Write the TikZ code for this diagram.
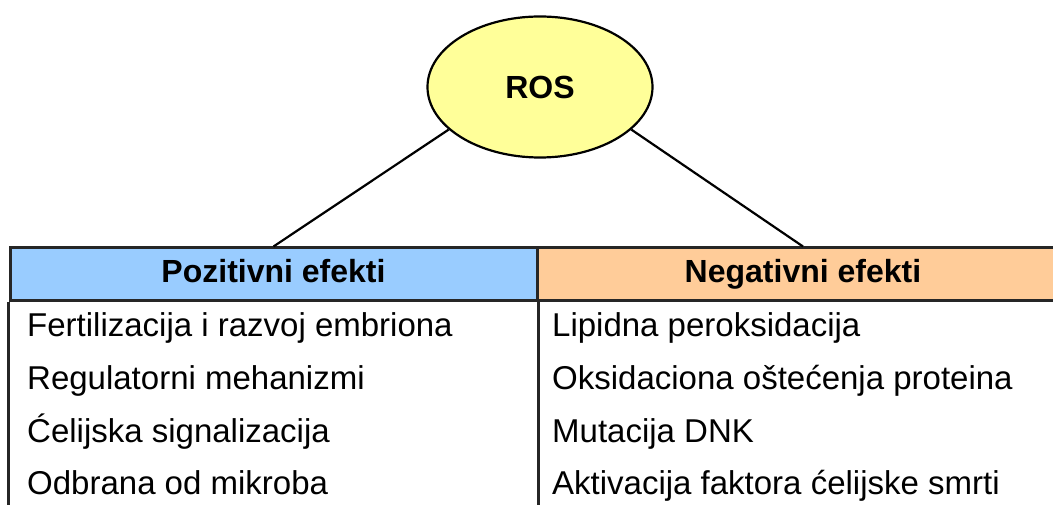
\documentclass[tikz,border=0pt]{standalone}
\usepackage{fontspec}
\setmainfont{Liberation Sans}
\usetikzlibrary{shapes.geometric}
\definecolor{rosyellow}{HTML}{FFFF99}
\definecolor{posblue}{HTML}{99CCFF}
\definecolor{negorange}{HTML}{FFCC99}
\begin{document}
\begin{tikzpicture}[x=1pt,y=-1pt]

\tikzset{rosnode/.style={ellipse,draw,line width=2.2pt,fill=rosyellow,minimum width=225pt,minimum height=141pt,inner sep=0pt,font=\fontsize{32}{38}\selectfont\bfseries},}
\tikzset{headnode/.style={rectangle,draw=black!85,line width=3pt,minimum height=53pt,inner sep=0pt,text height=23pt,text depth=6pt,font=\fontsize{32}{38}\selectfont\bfseries},}
\tikzset{itemnode/.style={anchor=base west,inner sep=0pt,font=\fontsize{33}{40}\selectfont},}

  \useasboundingbox (0,0) rectangle (1053,505);
  \clip (0,0) rectangle (1053,505);

  \draw (540,87) node[rosnode](ros) {ROS};
  \draw (273.5,274.5) node[headnode,fill=posblue,minimum width=527pt](pos) {Pozitivni efekti};
  \draw (803,274.5) node[headnode,fill=negorange,minimum width=532pt](neg) {Negativni efekti};

  %table body
  \draw[black!85,line width=3pt] (pos.south west) -- ++(0,230);
  \draw[black!85,line width=3pt] (pos.south east) -- ++(0,230);

  \draw (27,337) node[itemnode](p1) {Fertilizacija i razvoj embriona};
  \draw (27,389) node[itemnode](p2) {Regulatorni mehanizmi};
  \draw (27,442) node[itemnode](p3) {Ćelijska signalizacija};
  \draw (27,494) node[itemnode](p4) {Odbrana od mikroba};

  \draw (552,337) node[itemnode](n1) {Lipidna peroksidacija};
  \draw (552,389) node[itemnode](n2) {Oksidaciona oštećenja proteina};
  \draw (552,442) node[itemnode](n3) {Mutacija DNK};
  \draw (552,494) node[itemnode](n4) {Aktivacija faktora ćelijske smrti};

  %edges for ROS
  \draw[line width=2.2pt] (ros.205) -- (pos.north);
  \draw[line width=2.2pt] (ros.335) -- (neg.north);

\end{tikzpicture}
\end{document}
